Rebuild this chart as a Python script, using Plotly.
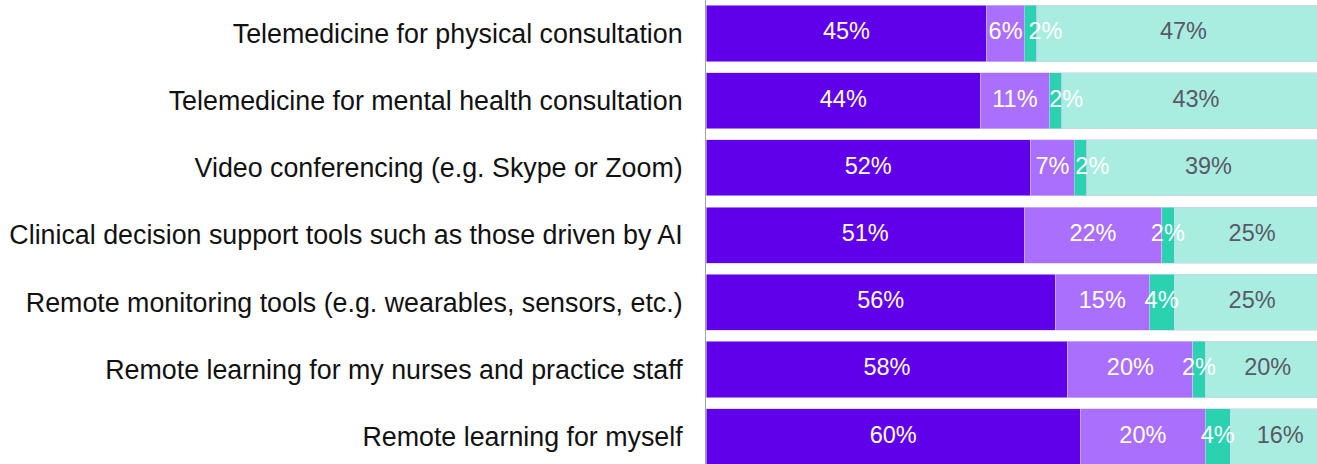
import plotly.graph_objects as go

categories = [
    "Telemedicine for physical consultation",
    "Telemedicine for mental health consultation",
    "Video conferencing (e.g. Skype or Zoom)",
    "Clinical decision support tools such as those driven by AI",
    "Remote monitoring tools (e.g. wearables, sensors, etc.)",
    "Remote learning for my nurses and practice staff",
    "Remote learning for myself",
]
series_names = ["Segment A", "Segment B", "Segment C", "Segment D"]
seg_a = [45, 44, 52, 51, 56, 58, 60]
seg_b = [6, 11, 7, 22, 15, 20, 20]
seg_c = [2, 2, 2, 2, 4, 2, 4]
seg_d = [47, 43, 39, 25, 25, 20, 16]

colors = ["#6000EA", "#AA6FFC", "#2BD2B0", "#A8EDE0"]
text_colors = ["#FFFFFF", "#FFFFFF", "#FFFFFF", "#5A5866"]

W, H = 1317, 464
ML = 706
X_MAX = 97.9
PLOT_W = W - ML
PX = PLOT_W / X_MAX  # pixels per percent
LABEL_FS = 23.5
FONT = "Liberation Sans, Arial, sans-serif"

series = [seg_a, seg_b, seg_c, seg_d]
fig = go.Figure()

for name, vals, col in zip(series_names, series, colors):
    fig.add_trace(go.Bar(
        y=categories, x=vals, orientation="h", name=name,
        marker=dict(color=col, line=dict(color="#D6C8F8", width=0.6)),
        hoverinfo="skip", showlegend=False,
    ))


def text_w(s):
    w = 0
    for ch in s:
        w += 0.889 if ch == "%" else 0.556
    return w * LABEL_FS / PX  # in data units


# label positions with simple collision avoidance
label_x = [[None] * len(categories) for _ in series]
for i in range(len(categories)):
    start = 0
    prev_right = -1e9
    for k, vals in enumerate(series):
        v = vals[i]
        t = f"{v}%"
        w = text_w(t)
        mid = start + v / 2
        left = mid - w / 2
        if left < prev_right + 4 / PX:
            left = max(start, prev_right + 6 / PX)
            mid = left + w / 2
        label_x[k][i] = mid
        prev_right = mid + w / 2
        start += v

for k, vals in enumerate(series):
    fig.add_trace(go.Scatter(
        y=categories, x=label_x[k], mode="text",
        text=[f"{v}%" for v in vals],
        textfont=dict(family=FONT, size=LABEL_FS, color=text_colors[k]),
        textposition="middle center",
        hoverinfo="skip", showlegend=False, cliponaxis=False,
    ))

pitch = 67.2
span = H / pitch
top = -33.5 / pitch

fig.update_layout(
    width=W, height=H,
    barmode="stack", bargap=0.165,
    margin=dict(l=ML, r=0, t=0, b=0),
    paper_bgcolor="white", plot_bgcolor="white",
    font=dict(family=FONT, color="#111111"),
    xaxis=dict(range=[0, X_MAX], visible=False, showgrid=False, zeroline=False),
    yaxis=dict(
        type="category",
        categoryorder="array", categoryarray=categories,
        range=[top + span, top],
        showline=True, linecolor="#A0A0A0", linewidth=1,
        ticks="outside", ticklen=17, tickcolor="rgba(0,0,0,0)",
        tickfont=dict(size=26.8, color="#111111", family=FONT),
        showgrid=False, zeroline=False,
    ),
)

fig.write_html("out.html",
               config={"displayModeBar": False},
               post_script="document.body.style.margin='0';document.body.style.overflow='hidden';")
